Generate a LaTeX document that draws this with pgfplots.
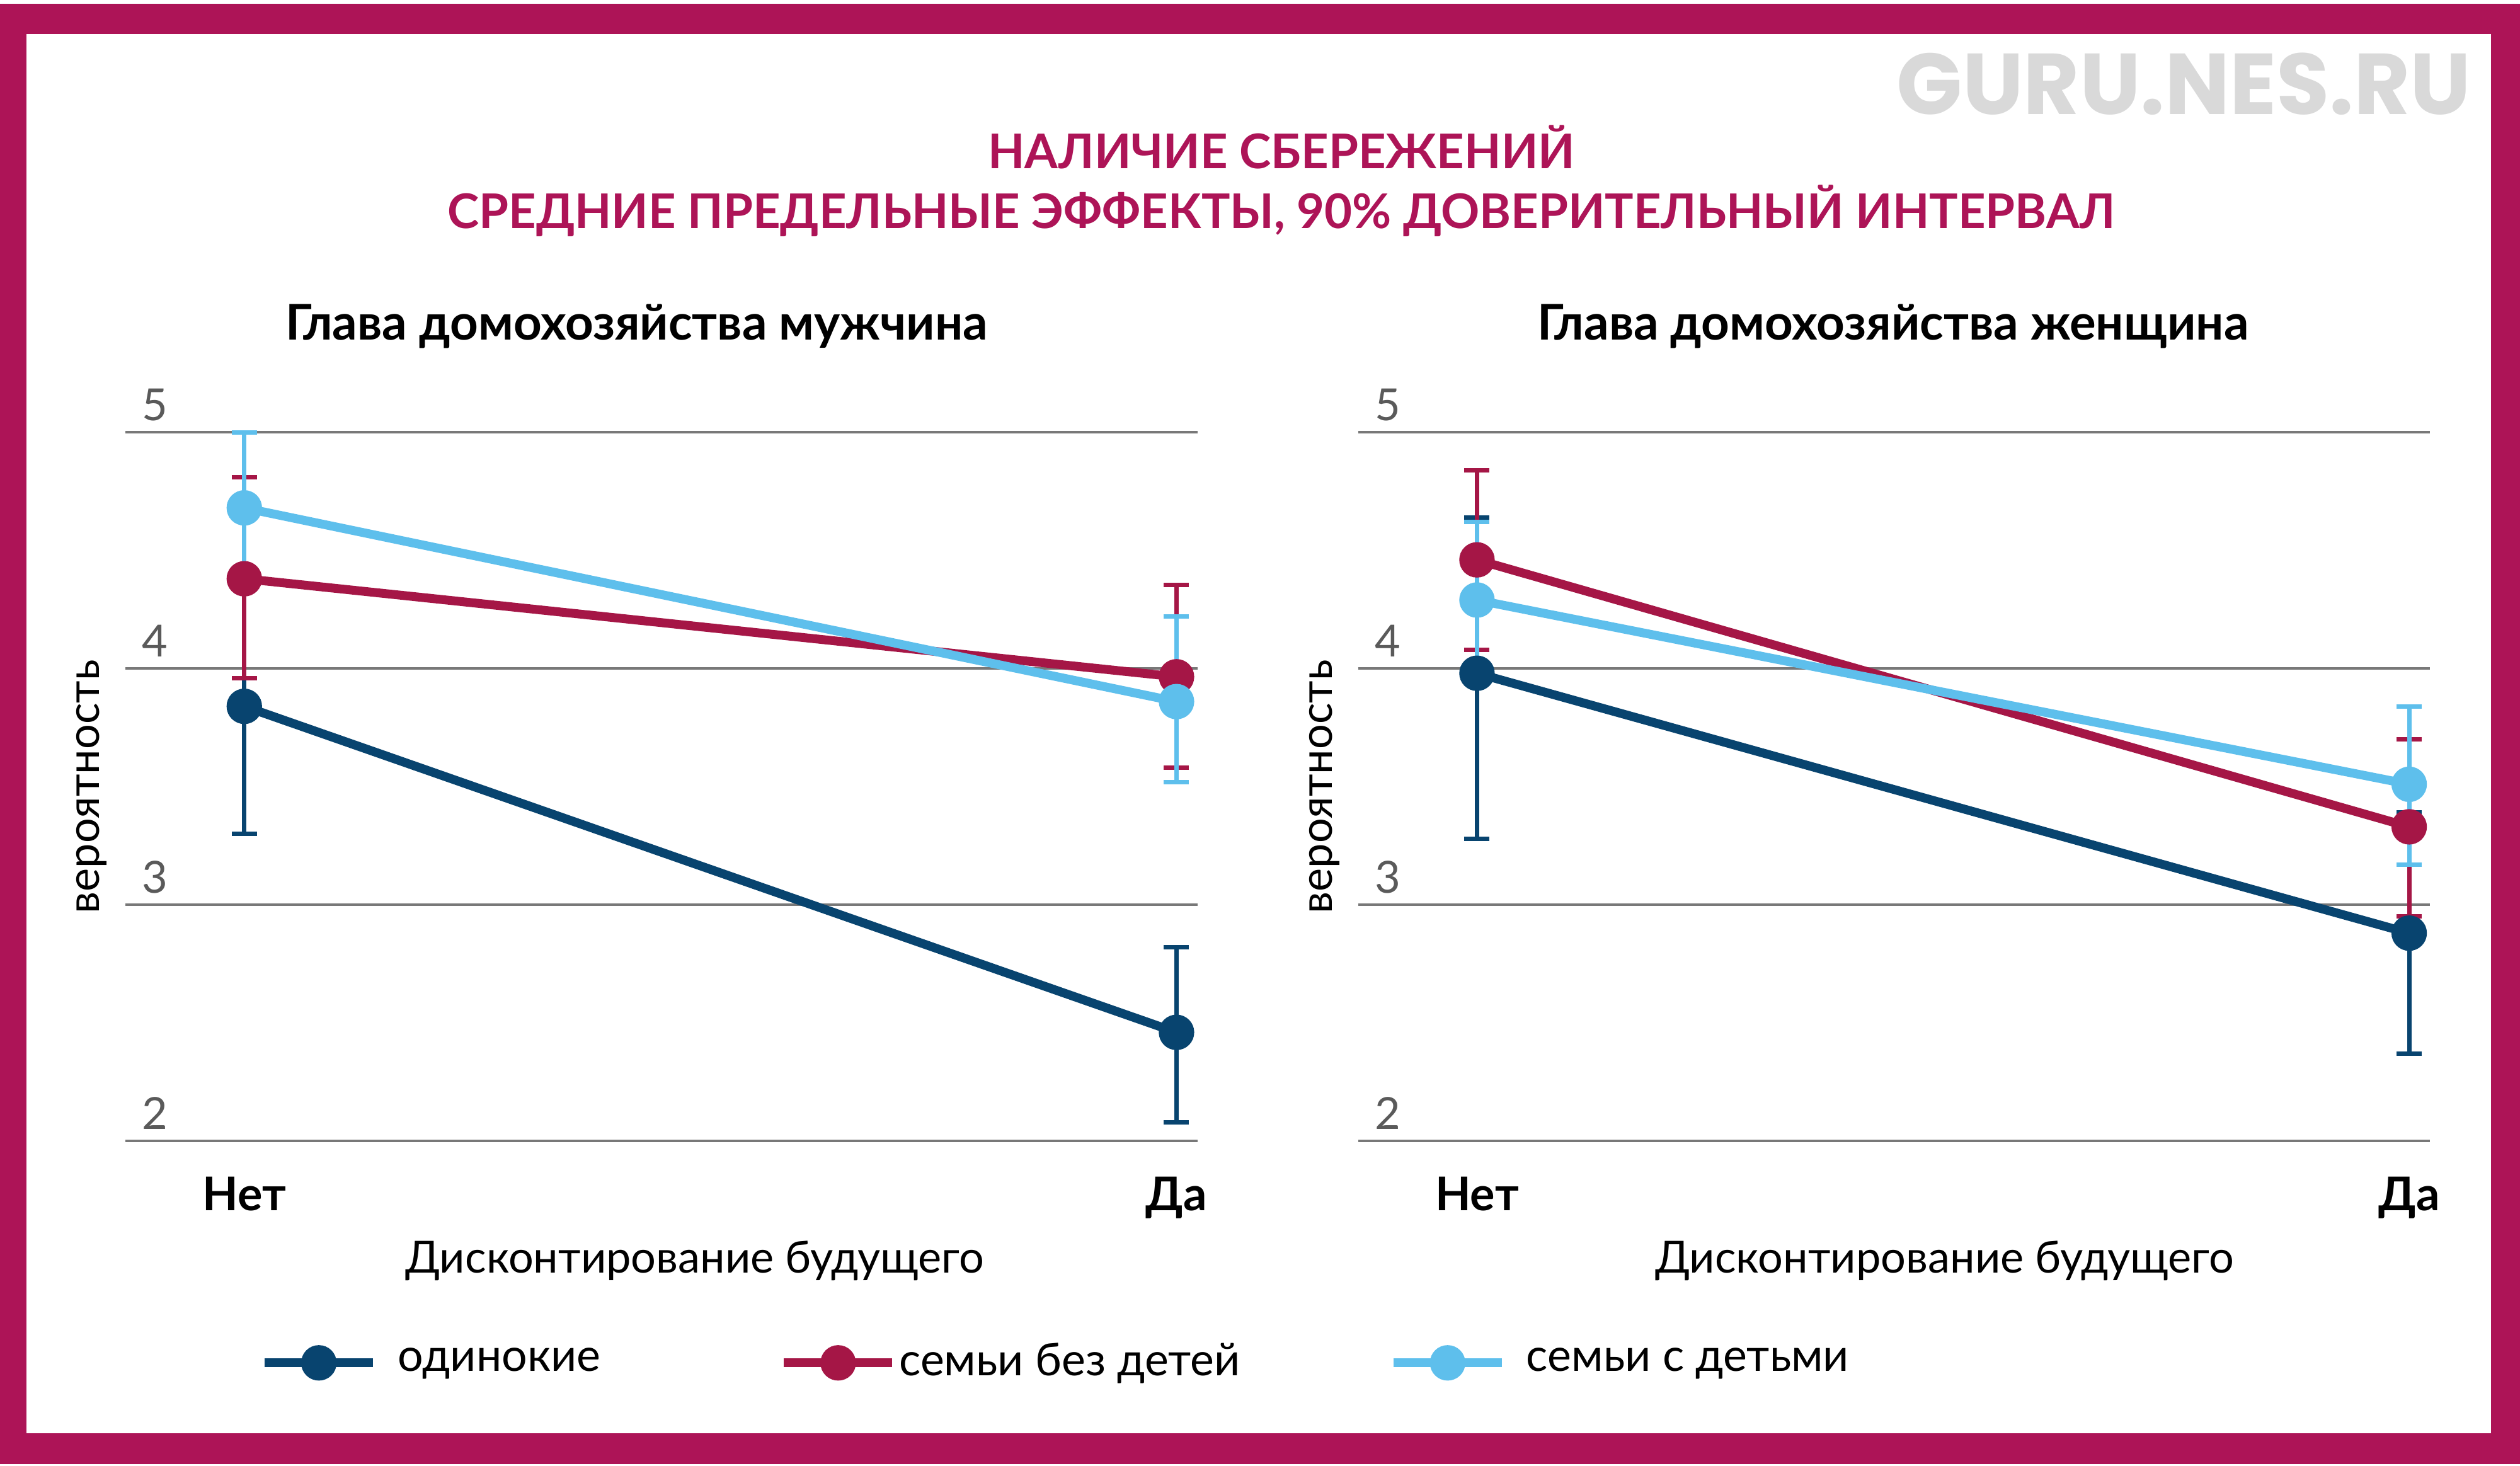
\documentclass[border=0pt]{standalone}
\usepackage{fontspec}
\setmainfont{Lato}
\newfontfamily\wmfont{Poppins}
\usepackage{pgfplots}
\pgfplotsset{compat=1.18}
\definecolor{frame}{RGB}{173,20,87}
\definecolor{single}{RGB}{8,68,111}
\definecolor{nokids}{RGB}{165,22,70}
\definecolor{kids}{RGB}{94,191,236}
\definecolor{gridgray}{RGB}{120,120,120}
\definecolor{ticktext}{RGB}{90,90,90}

\pgfplotsset{
  panel/.style={
    scale only axis, width=8.508cm, height=5.625cm,
    xmin=-0.1276, xmax=1.0224, ymin=2, ymax=5,
    xtick={0,1}, xticklabels={Нет,Да}, ytick={2,3,4,5},
    ymajorgrids, major grid style={gridgray, line width=0.5pt},
    axis line style={draw=none}, major tick length=0pt,
    clip=false,
    /pgf/number format/assume math mode=true,
    yticklabel style={anchor=south west, inner sep=0pt, xshift=0.125cm,
      yshift=0.085cm, text=ticktext, font=\fontsize{10}{12}\selectfont},
    xticklabel style={anchor=base, inner sep=0pt, yshift=-0.55cm,
      font=\fontsize{10.5}{12}\selectfont\bfseries},
    ylabel={вероятность},
    ylabel style={at={(axis description cs:-0.0315,0.5)}, anchor=center,
      font=\fontsize{10}{12}\selectfont},
    xlabel={Дисконтирование будущего},
    xlabel style={anchor=base, inner sep=0pt, font=\fontsize{10}{12}\selectfont},
    title style={anchor=base, inner sep=0pt, font=\fontsize{11.1}{13}\selectfont\bfseries},
  },
  ebar/.style={draw=none, mark=none, forget plot,
    error bars/.cd, y dir=both, y explicit,
    error bar style={draw=#1, line width=1pt},
    error mark options={draw=#1, rotate=90, mark size=0.1cm, line width=1pt}},
  ser/.style={color=#1, line width=2pt, mark=*, mark size=3pt,
    mark options={solid, fill=#1, draw=#1}},
}

\begin{document}
\begin{tikzpicture}[x=1cm,y=1cm]
\useasboundingbox (0,0) rectangle (20,11.633);
\fill[white] (0,0) rectangle (20,11.633);
\fill[frame] (0,0.015) rectangle (20,11.603);
\fill[white] (0.21,0.258) rectangle (19.77,11.363);

\node[anchor=base east, inner sep=0pt, text=black!15,
  font=\wmfont\fontsize{19.5}{22}\selectfont\bfseries] at (19.62,10.723) {GURU.NES.RU};
\node[anchor=base, inner sep=0pt, text=frame, font=\fontsize{10.8}{13}\selectfont\bfseries]
  at (10.17,10.295) {НАЛИЧИЕ СБЕРЕЖЕНИЙ};
\node[anchor=base, inner sep=0pt, text=frame, font=\fontsize{10.8}{13}\selectfont\bfseries]
  at (10.17,9.822) {СРЕДНИЕ ПРЕДЕЛЬНЫЕ ЭФФЕКТЫ, 90\% ДОВЕРИТЕЛЬНЫЙ ИНТЕРВАЛ};

% household head: male
\begin{axis}[panel, at={(0.995cm,2.577cm)}, anchor=south west,
  title={Глава домохозяйства мужчина},
  title style={at={(axis description cs:0.477,1)}, yshift=0.523cm},
  xlabel style={at={(axis description cs:0.531,0)}, yshift=-1.046cm},
  legend columns=3,
  legend style={draw=none, fill=none, at={(axis description cs:0.1250,-0.313)},
    anchor=west, inner sep=0pt, font=\fontsize{10.2}{12}\selectfont,
    /tikz/column 1/.append style={column sep=0.09cm},
    /tikz/column 2/.append style={column sep=1.35cm},
    /tikz/column 3/.append style={column sep=-0.05cm},
    /tikz/column 4/.append style={column sep=1.11cm},
    /tikz/column 5/.append style={column sep=0.09cm}},
  legend image code/.code={\draw[mark repeat=2,mark phase=2,#1]
    plot coordinates {(0cm,0cm) (0.43cm,0cm) (0.86cm,0cm)};},
]
\addplot[ebar=single] coordinates {(0,3.84) += (0,0.55) -= (0,0.54) (1,2.46) += (0,0.36) -= (0,0.38)};
\addplot[ebar=nokids] coordinates {(0,4.38) += (0,0.43) -= (0,0.42) (1,3.965) += (0,0.39) -= (0,0.385)};
\addplot[ebar=kids] coordinates {(0,4.68) += (0,0.32) -= (0,0.34) (1,3.86) += (0,0.36) -= (0,0.34)};
\addplot[ser=single] coordinates {(0,3.84) (1,2.46)};
\addlegendentry{одинокие}
\addplot[ser=nokids] coordinates {(0,4.38) (1,3.965)};
\addlegendentry{семьи без детей}
\addplot[ser=kids] coordinates {(0,4.68) (1,3.86)};
\addlegendentry{семьи с детьми}
\end{axis}

% household head: female
\begin{axis}[panel, at={(10.778cm,2.577cm)}, anchor=south west,
  title={Глава домохозяйства женщина},
  title style={at={(axis description cs:0.499,1)}, yshift=0.523cm},
  xlabel style={at={(axis description cs:0.547,0)}, yshift=-1.046cm},
]
\addplot[ebar=single] coordinates {(0,3.98) += (0,0.66) -= (0,0.70) (1,2.88) += (0,0.51) -= (0,0.51)};
\addplot[ebar=nokids] coordinates {(0,4.46) += (0,0.38) -= (0,0.38) (1,3.33) += (0,0.37) -= (0,0.38)};
\addplot[ebar=kids] coordinates {(0,4.29) += (0,0.33) -= (0,0.35) (1,3.51) += (0,0.33) -= (0,0.34)};
\addplot[ser=single] coordinates {(0,3.98) (1,2.88)};
\addplot[ser=nokids] coordinates {(0,4.46) (1,3.33)};
\addplot[ser=kids] coordinates {(0,4.29) (1,3.51)};
\end{axis}
\end{tikzpicture}
\end{document}
